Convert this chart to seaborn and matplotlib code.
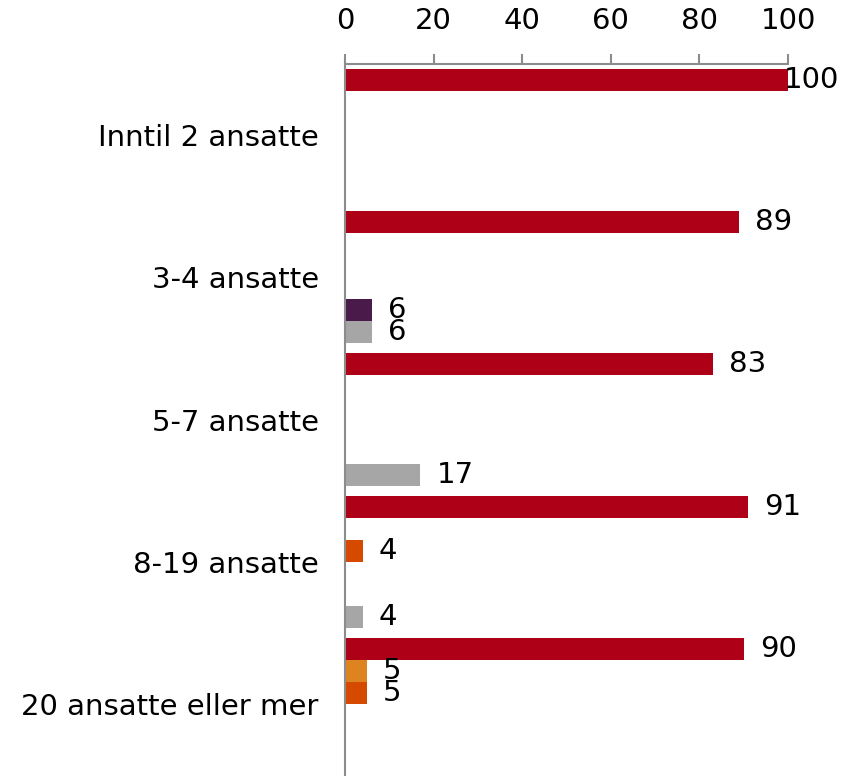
import numpy as np
import pandas as pd
import matplotlib
matplotlib.use("Agg")
import matplotlib.pyplot as plt
import seaborn as sns


categories = [
    "Inntil 2 ansatte",
    "3-4 ansatte",
    "5-7 ansatte",
    "8-19 ansatte",
    "20 ansatte eller mer",
]

series_names = ["Serie 1", "Serie 2", "Serie 3", "Serie 4", "Serie 5", "Serie 6"]

serie_1 = [100, 89, 83, 91, 90]
serie_2 = [np.nan, np.nan, np.nan, np.nan, 5]
serie_3 = [np.nan, np.nan, np.nan, 4, 5]
serie_4 = [np.nan, np.nan, np.nan, np.nan, np.nan]
serie_5 = [np.nan, 6, np.nan, np.nan, np.nan]
serie_6 = [np.nan, 6, 17, 4, np.nan]

x_ticks = [0, 20, 40, 60, 80, 100]

colors = ["#AE0017", "#DD8420", "#D64A00", "#7F7F7F", "#4A1A4B", "#A6A6A6"]


rows = []
for name, values in zip(
    series_names,
    [serie_1, serie_2, serie_3, serie_4, serie_5, serie_6]
):
    for cat, val in zip(categories, values):
        if not np.isnan(val):
            rows.append({"kategori": cat, "serie": name, "verdi": val})

df = pd.DataFrame(rows)


sns.set_style("white")
plt.rcParams["font.family"] = ["DejaVu Sans"]

fig = plt.figure(figsize=(8.53, 7.77), dpi=100)
ax = fig.add_axes([0.4045, 0.0026, 0.5193, 0.915])

sns.barplot(
    data=df,
    x="verdi",
    y="kategori",
    hue="serie",
    order=categories,
    hue_order=series_names,
    palette=dict(zip(series_names, colors)),
    orient="h",
    width=0.93,
    gap=0,
    saturation=1,
    linewidth=0,
    errorbar=None,
    legend=False,
    ax=ax
)

# data labels right of each bar
for bar in ax.patches:
    w = bar.get_width()
    if np.isnan(w) or w == 0:
        continue
    y = bar.get_y() + bar.get_height() / 2
    dx = 16 if w < x_ticks[-1] else -4
    ax.annotate(
        f"{w:g}",
        xy=(w, y),
        xytext=(dx, 0),
        textcoords="offset pixels",
        ha="left",
        va="center",
        fontsize=21,
        color="black",
        annotation_clip=False
    )

ax.set_xlim(0, 100)
ax.set_ylim(len(categories) - 0.5, -0.5)

ax.xaxis.tick_top()
ax.set_xticks(x_ticks)
ax.tick_params(
    axis="x",
    direction="out",
    length=7,
    width=1.5,
    color="#8C8C8C",
    labelcolor="black",
    labelsize=21,
    pad=14
)

ax.set_yticks(range(len(categories)))
ax.set_yticklabels(categories)
ax.set_yticks(np.arange(-0.5, len(categories)), minor=True)
ax.tick_params(
    axis="y",
    which="major",
    length=0,
    labelcolor="black",
    labelsize=21,
    pad=19
)
ax.tick_params(
    axis="y",
    which="minor",
    direction="out",
    length=7,
    width=1.5,
    color="#8C8C8C"
)

ax.set_xlabel("")
ax.set_ylabel("")

for side in ["right", "bottom"]:
    ax.spines[side].set_visible(False)
for side in ["top", "left"]:
    ax.spines[side].set_color("#8C8C8C")
    ax.spines[side].set_linewidth(1.5)

fig.savefig("out.png", dpi=100)
